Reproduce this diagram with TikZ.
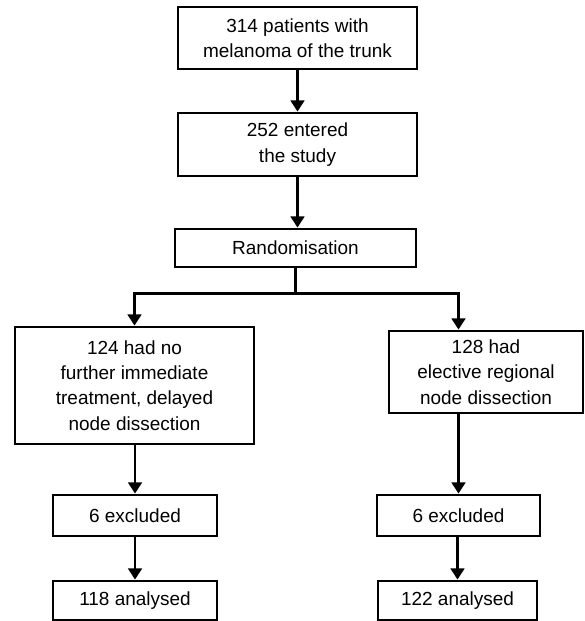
\documentclass[tikz,border=0pt]{standalone}
\usepackage{fontspec}
\setmainfont{Liberation Sans}
\usepackage{tikz}
\usetikzlibrary{positioning,arrows.meta}
\tikzset{
  flowbox/.style={draw=black,fill=white,line width=2pt,
    font=\fontsize{13.5}{18}\selectfont,align=center,inner sep=2pt},
  flowarr/.style={line width=2pt,draw=black,
    -{Triangle[length=0.28cm,width=0.34cm]}},
  flowline/.style={line width=2pt,draw=black},
}
\begin{document}
\begin{tikzpicture}
  \useasboundingbox[fill=white] (0,0) rectangle (14.6,-15.525);
  \node[flowbox,minimum width=5.975cm,minimum height=1.55cm] (pats) at (7.4375,-0.95) {314 patients with\\melanoma of the trunk};
  \node[flowbox,minimum width=5.975cm,minimum height=1.575cm] (enter) at (7.4375,-3.6125) {252 entered\\the study};
  \node[flowbox,minimum width=6.025cm,minimum height=0.95cm] (rand) at (7.3875,-6.2) {Randomisation};
  \node[flowbox,minimum width=5.975cm,minimum height=2.925cm] (delay) at (3.3625,-9.6375) {124 had no\\further immediate\\treatment, delayed\\node dissection};
  \node[flowbox,minimum width=4.85cm,minimum height=2.05cm] (elect) at (12.15,-9.3) {128 had\\elective regional\\node dissection};
  \node[flowbox,minimum width=4.1cm,minimum height=1.025cm] (exclL) at (3.375,-12.8875) {6 excluded};
  \node[flowbox,minimum width=4.075cm,minimum height=1.025cm] (exclR) at (11.4625,-12.8875) {6 excluded};
  \node[flowbox,minimum width=4.1cm,minimum height=0.975cm] (anaL) at (3.375,-15.0125) {118 analysed};
  \node[flowbox,minimum width=3.975cm,minimum height=0.975cm] (anaR) at (11.4375,-15.0125) {122 analysed};
  \draw[flowarr] (pats.south) -- (enter.north);
  \draw[flowarr] (enter.south) -- (enter.south |- rand.north);
  \draw[flowline] (rand.south) -- ++(0,-0.63) coordinate (split);
  \draw[flowarr] (split) -| (delay.north);
  \draw[flowarr] (split) -| (exclR.north |- elect.north);
  \draw[flowarr] (exclL.north |- delay.south) -- (exclL.north);
  \draw[flowarr] (exclR.north |- elect.south) -- (exclR.north);
  \draw[flowarr] (anaL.north |- exclL.south) -- (anaL.north);
  \draw[flowarr] (anaR.north |- exclR.south) -- (anaR.north);
\end{tikzpicture}
\end{document}
